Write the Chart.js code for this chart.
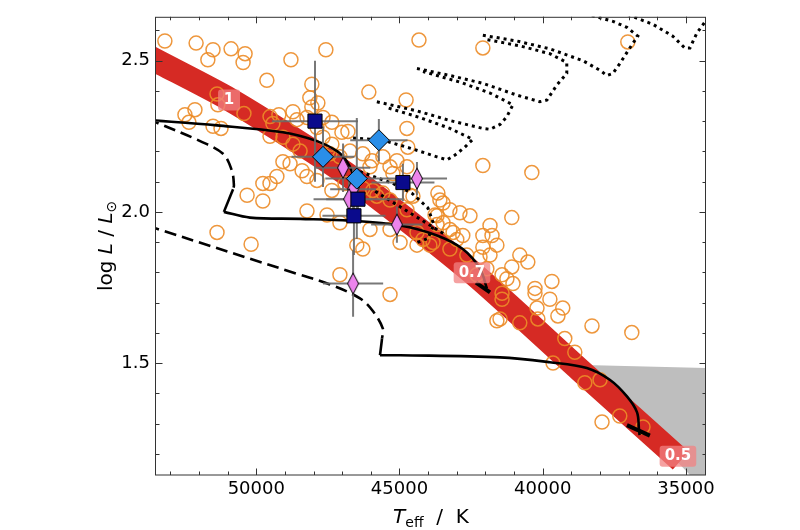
<!DOCTYPE html>
<html>
<head>
<meta charset="utf-8">
<title>HR diagram</title>
<script src="https://cdn.jsdelivr.net/npm/chart.js@4.4.0/dist/chart.umd.min.js"></script>
<style>
html,body{margin:0;padding:0;background:#ffffff;}
canvas{display:block;}
</style>
</head>
<body>
<canvas id="chart" width="800" height="530"></canvas>
<script>
// ---------------- axes ----------------
const xRange = [34300, 53500];
const yRange = [1.13, 2.645];
const xMajorTicks = [35000, 40000, 45000, 50000];
const yMajorTicks = [1.5, 2.0, 2.5];
const xMinorTicks = [35000, 36000, 37000, 38000, 39000, 40000, 41000, 42000, 43000, 44000,
                     45000, 46000, 47000, 48000, 49000, 50000, 51000, 52000, 53000];
const yMinorTicks = [1.2, 1.3, 1.4, 1.5, 1.6, 1.7, 1.8, 1.9, 2.0, 2.1, 2.2, 2.3, 2.4, 2.5, 2.6];
const xTitleRuns = [{t: 'T', italic: true}, {t: 'eff', sub: true}, {t: '  /  K'}];
const yTitleRuns = [{t: 'log '}, {t: 'L', italic: true}, {t: ' / '}, {t: 'L', italic: true}, {t: '\u2299', sub: true}];

// ---------------- observed stars (open circles) ----------------
const obsTeff = [53190, 52100, 51690, 51510, 50880, 50390, 50460, 49630, 48790, 47570,
  44320, 42090, 37030, 48060, 47850, 46070, 44770, 44740, 52490, 52140,
  52350, 51510, 51230, 51370, 51340, 50430, 49420, 49210, 48720, 48580,
  48230, 48060, 47670, 47360, 49520, 49070, 48720, 47670, 47360, 47010,
  46800, 47430, 46730, 46280, 45960, 45580, 45330, 47080, 48820, 48400,
  48230, 47880, 49280, 49520, 50320, 49770, 46900, 47360, 46280, 45790,
  45330, 44640, 51370, 50180, 44710, 42090, 40380, 43660, 43590, 47880,
  48470, 49070, 49770, 48230, 47530, 47080, 46030, 46490, 46280, 47080,
  45330, 45330, 44740, 44530, 45230, 45090, 44740, 46030, 45930, 45580,
  43480, 43690, 43240, 42890, 43480, 44390, 44180, 43940, 43240, 43000,
  42790, 42540, 43240, 42650, 42090, 41840, 41840, 41600, 41950, 42300,
  41600, 44980, 43760, 41080, 43690, 43130, 43830, 41770, 42090, 42190,
  40800, 40520, 41080, 41420, 41250, 41040, 41420, 41420, 40270, 40270,
  39750, 39680, 39300, 39470, 40200, 40170, 41490, 40800, 38280, 36890,
  39230, 38880, 39640, 38530, 38000, 37930, 37310, 36500, 48130, 49520, 44390];
const obsLogL = [2.565, 2.558, 2.503, 2.536, 2.539, 2.523, 2.494, 2.435, 2.503, 2.536,
  2.568, 2.542, 2.562, 2.422, 2.360, 2.396, 2.370, 2.276, 2.321, 2.338,
  2.296, 2.283, 2.276, 2.390, 2.354, 2.325, 2.292, 2.321, 2.331, 2.305,
  2.312, 2.347, 2.312, 2.296, 2.250, 2.247, 2.224, 2.247, 2.224, 2.263,
  2.266, 2.192, 2.201, 2.192, 2.169, 2.182, 2.149, 2.182, 2.159, 2.136,
  2.117, 2.104, 2.117, 2.094, 2.055, 2.036, 2.094, 2.071, 2.078, 2.052,
  2.039, 2.055, 1.932, 1.893, 2.214, 2.153, 2.130, 2.062, 2.039, 2.279,
  2.201, 2.166, 2.094, 2.003, 1.990, 1.964, 1.942, 1.890, 1.877, 1.792,
  1.727, 1.942, 2.007, 2.052, 2.127, 2.169, 2.149, 2.149, 2.071, 2.062,
  2.029, 1.987, 2.007, 1.997, 1.964, 1.932, 1.909, 1.890, 1.942, 1.909,
  1.922, 1.987, 1.877, 1.857, 1.922, 1.955, 1.857, 1.890, 1.812, 1.792,
  1.640, 1.899, 1.990, 1.981, 1.958, 1.932, 1.899, 1.922, 1.883, 1.851,
  1.857, 1.834, 1.818, 1.792, 1.779, 1.763, 1.731, 1.711, 1.747, 1.731,
  1.711, 1.770, 1.682, 1.656, 1.682, 1.646, 1.646, 1.633, 1.623, 1.601,
  1.581, 1.536, 1.500, 1.435, 1.445, 1.305, 1.325, 1.289, 2.377, 2.315, 1.890];

// ---------------- red band (He main sequence) ----------------
const bandTeff = [53800, 53500, 50950, 48020, 46485, 42470, 38700, 35180];
const bandLogL = [2.515, 2.500, 2.373, 2.200, 2.100, 1.800, 1.477, 1.178];
const bandLabelTeff = [50950, 42470, 35280];
const bandLabelLogL = [2.373, 1.802, 1.195];
const bandLabelText = ['1', '0.7', '0.5'];

// ---------------- grey region ----------------
const greyTeff = [38530, 34300, 34300, 34860, 38530];
const greyLogL = [1.494, 1.484, 1.130, 1.130, 1.494];

// ---------------- evolutionary tracks ----------------
const trackA_T = [53800, 51370, 49070, 47880, 47180, 46830, 46630, 46490, 46420];
const trackA_L = [2.304, 2.286, 2.263, 2.234, 2.201, 2.166, 2.127, 2.094, 2.075];

const trackBdash_T = [53800, 53500, 51960, 51160, 50850, 50780, 50810];
const trackBdash_L = [2.308, 2.296, 2.234, 2.192, 2.136, 2.088, 2.075];
const trackBkink_T = [50810, 51130];
const trackBkink_L = [2.075, 2.000];
const trackB_T = [51130, 50220, 48470, 46730, 44980, 43690, 42790, 42190, 41950];
const trackB_L = [2.000, 1.981, 1.977, 1.971, 1.955, 1.922, 1.877, 1.812, 1.747];
const hookB_T = [42330, 41840];
const hookB_L = [1.766, 1.734];

const trackCdash_T = [53800, 53500, 48470, 47430, 46380, 45930, 45580, 45610];
const trackCdash_L = [1.954, 1.945, 1.792, 1.760, 1.714, 1.672, 1.614, 1.581];
const trackCkink_T = [45610, 45680];
const trackCkink_L = [1.581, 1.526];
const trackC_T = [45680, 44980, 41490, 39750, 38460, 37660, 37060, 36710, 36640, 36620];
const trackC_L = [1.526, 1.526, 1.519, 1.503, 1.484, 1.445, 1.390, 1.338, 1.282, 1.262];
const hookC_T = [37060, 36260];
const hookC_L = [1.295, 1.260];

// dotted tracks
const dot1_T = [44390, 43240, 42090, 40900, 40100, 39850, 39510, 39160, 39160, 39750, 40800, 42020];
const dot1_L = [2.474, 2.451, 2.425, 2.386, 2.364, 2.370, 2.419, 2.458, 2.494, 2.523, 2.549, 2.571];
const dot2_T = [42090, 40900, 39750, 38600, 38000, 37760, 37550, 37310, 36960, 36680, 37060, 37550, 38320];
const dot2_L = [2.584, 2.565, 2.539, 2.500, 2.468, 2.451, 2.458, 2.490, 2.542, 2.581, 2.610, 2.630, 2.650];
const dot3_T = [37030, 36150, 35460, 35040, 34860, 34620, 34100];
const dot3_L = [2.652, 2.620, 2.581, 2.542, 2.542, 2.591, 2.659];
const dot4_T = [45790, 44390, 43240, 42090, 41840, 41490, 41250, 41040, 41840, 42890, 44180];
const dot4_L = [2.364, 2.334, 2.302, 2.276, 2.273, 2.289, 2.315, 2.354, 2.393, 2.429, 2.464];
const dot5_T = [46620, 45580, 44640, 43690, 43340, 43060, 42720, 42440, 43240, 44290, 45510];
const dot5_L = [2.244, 2.237, 2.211, 2.182, 2.172, 2.188, 2.214, 2.240, 2.276, 2.312, 2.347];
const dot6_T = [46380, 45230, 44570, 44010, 43800, 44010, 44460];
const dot6_L = [2.133, 2.094, 2.062, 2.013, 1.958, 1.912, 1.896];
const dot7_T = [45850, 44640, 43410];
const dot7_L = [2.068, 1.997, 1.925];

// ---------------- stars with error bars ----------------
const sqTeff = [47950, 44880, 46450, 46590];
const sqLogL = [2.300, 2.097, 2.042, 1.987];
const sqErrT = [1500, 1100, 1550, 1100];
const sqErrL = [0.20, 0.062, 0.08, 0.13];

const bdTeff = [47670, 46490, 45720];
const bdLogL = [2.182, 2.110, 2.237];
const bdErrT = [1100, 1100, 1000];
const bdErrL = [0.10, 0.20, 0.07];

const vdTeff = [46970, 46620, 46760, 44390, 45090, 46620];
const vdLogL = [2.146, 2.075, 2.042, 2.110, 1.958, 1.763];
const vdErrT = [950, 800, 800, 1050, 900, 1050];
const vdErrL = [0.08, 0.07, 0.07, 0.055, 0.06, 0.11];

// ---------------- helpers ----------------
const FONT = 'DejaVu Sans';
function pts(xs, ys) { return xs.map((x, i) => ({x: x, y: ys[i]})); }
function errPts(T, L, eT, eL) {
  const out = [];
  T.forEach((t, i) => {
    out.push({x: t - eT[i], y: L[i]}, {x: t + eT[i], y: L[i]}, {x: null, y: null});
    out.push({x: t, y: L[i] - eL[i]}, {x: t, y: L[i] + eL[i]}, {x: null, y: null});
  });
  return out;
}
function lineDS(label, data, opts) {
  return Object.assign({
    type: 'scatter', label: label, data: data, showLine: true, pointRadius: 0,
    pointHoverRadius: 0, borderColor: '#000000', backgroundColor: '#000000',
    borderWidth: 2.6, fill: false, tension: 0, spanGaps: false
  }, opts || {});
}
function thinDiamond(fill) {
  const c = document.createElement('canvas');
  c.width = 14; c.height = 24;
  const g = c.getContext('2d');
  g.beginPath();
  g.moveTo(7, 1.5); g.lineTo(12.5, 12); g.lineTo(7, 22.5); g.lineTo(1.5, 12); g.closePath();
  g.fillStyle = fill; g.fill();
  g.lineWidth = 1; g.strokeStyle = '#000'; g.stroke();
  return c;
}
function runFont(r, size) {
  const s = r.sub ? size * 0.7 : size;
  return (r.italic ? 'italic ' : '') + s + 'px "' + FONT + '"';
}
function drawRich(ctx, runs, size, cx, baseline) {
  let total = 0;
  const widths = runs.map(r => { ctx.font = runFont(r, size); const w = ctx.measureText(r.t).width; total += w; return w; });
  let x = cx - total / 2;
  ctx.textAlign = 'left';
  ctx.textBaseline = 'alphabetic';
  runs.forEach((r, i) => {
    ctx.font = runFont(r, size);
    ctx.fillText(r.t, x, baseline + (r.sub ? size * 0.22 : 0));
    x += widths[i];
  });
}

// ---------------- plugins ----------------
const bandLabelPlugin = {
  id: 'bandLabels',
  afterDatasetsDraw(chart) {
    const {ctx, scales: {x, y}} = chart;
    ctx.save();
    ctx.font = 'bold 15px "' + FONT + '"';
    ctx.textAlign = 'center';
    ctx.textBaseline = 'middle';
    bandLabelText.forEach((t, i) => {
      const px = x.getPixelForValue(bandLabelTeff[i]);
      const py = y.getPixelForValue(bandLabelLogL[i]);
      const w = Math.max(22, ctx.measureText(t).width + 10);
      const h = 21;
      ctx.fillStyle = 'rgba(242,130,130,0.75)';
      ctx.beginPath();
      ctx.roundRect(px - w / 2, py - h / 2 + 1, w, h, 3);
      ctx.fill();
      ctx.fillStyle = '#ffffff';
      ctx.fillText(t, px, py + 1);
    });
    ctx.restore();
  }
};

const framePlugin = {
  id: 'frame',
  afterDatasetsDraw(chart) {
    const {ctx, chartArea: a, scales: {x, y}} = chart;
    ctx.save();
    ctx.strokeStyle = '#333333';
    ctx.lineWidth = 1;
    ctx.strokeRect(a.left - 0.5, a.top + 0.5, a.right - a.left, a.bottom - a.top - 0.5);
    ctx.beginPath();
    const tick = (vals, len, horiz) => {
      vals.forEach(v => {
        if (horiz) {
          const p = Math.round(x.getPixelForValue(v)) + 0.5;
          ctx.moveTo(p, a.bottom); ctx.lineTo(p, a.bottom - len);
          ctx.moveTo(p, a.top); ctx.lineTo(p, a.top + len);
        } else {
          const p = Math.round(y.getPixelForValue(v)) + 0.5;
          ctx.moveTo(a.left, p); ctx.lineTo(a.left + len, p);
          ctx.moveTo(a.right, p); ctx.lineTo(a.right - len, p);
        }
      });
    };
    tick(xMinorTicks, 3.5, true);
    tick(yMinorTicks, 3.5, false);
    tick(xMajorTicks, 6.5, true);
    tick(yMajorTicks, 6.5, false);
    ctx.stroke();
    // axis titles
    ctx.fillStyle = '#000000';
    drawRich(ctx, xTitleRuns, 20, (a.left + a.right) / 2, 523);
    ctx.translate(98, (a.top + a.bottom) / 2);
    ctx.rotate(-Math.PI / 2);
    drawRich(ctx, yTitleRuns, 20, 0, 14);
    ctx.restore();
  }
};

// ---------------- chart ----------------
Chart.defaults.font.family = FONT;
const ORANGE = 'rgba(236,140,40,0.9)';
const ERR = 'rgba(105,105,105,0.9)';

const datasets = [
  lineDS('grey region', pts(greyTeff, greyLogL), {borderWidth: 0, backgroundColor: '#bebebe', fill: 'shape', order: 20}),
  lineDS('He-ZAMS band', pts(bandTeff, bandLogL), {borderColor: '#d62a24', borderWidth: 24, tension: 0.25, borderCapStyle: 'butt', borderJoinStyle: 'round', order: 19}),
  {type: 'scatter', label: 'observed', data: pts(obsTeff, obsLogL), pointRadius: 7, pointHoverRadius: 7,
   pointBorderWidth: 1.5, borderColor: ORANGE, pointBorderColor: ORANGE, backgroundColor: 'rgba(0,0,0,0)',
   pointBackgroundColor: 'rgba(0,0,0,0)', order: 18},
  lineDS('dot1', pts(dot1_T, dot1_L), {borderDash: [3, 4], borderWidth: 3, order: 12}),
  lineDS('dot2', pts(dot2_T, dot2_L), {borderDash: [3, 4], borderWidth: 3, order: 12}),
  lineDS('dot3', pts(dot3_T, dot3_L), {borderDash: [3, 4], borderWidth: 3, order: 12}),
  lineDS('dot4', pts(dot4_T, dot4_L), {borderDash: [3, 4], borderWidth: 3, order: 12}),
  lineDS('dot5', pts(dot5_T, dot5_L), {borderDash: [3, 4], borderWidth: 3, order: 12}),
  lineDS('dot6', pts(dot6_T, dot6_L), {borderDash: [3, 4], borderWidth: 3, order: 12}),
  lineDS('dot7', pts(dot7_T, dot7_L), {borderDash: [3, 4], borderWidth: 3, order: 12}),
  lineDS('track A', pts(trackA_T, trackA_L), {tension: 0.35, order: 11}),
  lineDS('track B dashed', pts(trackBdash_T, trackBdash_L), {tension: 0.35, borderDash: [12, 6], order: 11}),
  lineDS('track B kink', pts(trackBkink_T, trackBkink_L), {order: 11}),
  lineDS('track B', pts(trackB_T, trackB_L), {tension: 0.35, order: 11}),
  lineDS('track B end', pts(hookB_T, hookB_L), {borderWidth: 4, order: 11}),
  lineDS('track C dashed', pts(trackCdash_T, trackCdash_L), {tension: 0.35, borderDash: [12, 6], order: 11}),
  lineDS('track C kink', pts(trackCkink_T, trackCkink_L), {order: 11}),
  lineDS('track C', pts(trackC_T, trackC_L), {tension: 0.35, order: 11}),
  lineDS('track C end', pts(hookC_T, hookC_L), {borderWidth: 4, order: 11}),
  lineDS('errors violet', errPts(vdTeff, vdLogL, vdErrT, vdErrL), {borderColor: ERR, borderWidth: 2, order: 6}),
  lineDS('errors blue', errPts(bdTeff, bdLogL, bdErrT, bdErrL), {borderColor: ERR, borderWidth: 2, order: 5}),
  lineDS('errors squares', errPts(sqTeff, sqLogL, sqErrT, sqErrL), {borderColor: ERR, borderWidth: 2, order: 5}),
  {type: 'scatter', label: 'violet', data: pts(vdTeff, vdLogL), pointStyle: thinDiamond('#ec84ec'),
   pointRadius: 10, order: 3},
  {type: 'scatter', label: 'blue diamonds', data: pts(bdTeff, bdLogL), pointStyle: 'rectRot', pointRadius: 10.5,
   pointBackgroundColor: '#2a8ee8', pointBorderColor: '#000', pointBorderWidth: 1, order: 2},
  {type: 'scatter', label: 'squares', data: pts(sqTeff, sqLogL), pointStyle: 'rect', pointRadius: 10,
   pointBackgroundColor: '#0a0a8c', pointBorderColor: '#000', pointBorderWidth: 1, order: 1}
];

new Chart(document.getElementById('chart').getContext('2d'), {
  type: 'scatter',
  data: {datasets: datasets},
  options: {
    responsive: false,
    animation: false,
    devicePixelRatio: 1,
    events: [],
    layout: {padding: {left: 0, top: 11, right: 94, bottom: 0}},
    plugins: {legend: {display: false}, tooltip: {enabled: false}},
    scales: {
      x: {
        type: 'linear', reverse: true, min: xRange[0], max: xRange[1],
        grid: {display: false, drawTicks: false},
        border: {display: false},
        ticks: {color: '#000', font: {size: 18, family: FONT}, padding: 4, maxRotation: 0, autoSkip: false,
                callback: v => String(v)},
        afterBuildTicks: s => { s.ticks = xMajorTicks.map(v => ({value: v})); },
        afterFit: s => { s.height = 55; }
      },
      y: {
        type: 'linear', min: yRange[0], max: yRange[1],
        grid: {display: false, drawTicks: false},
        border: {display: false},
        ticks: {color: '#000', font: {size: 18, family: FONT}, padding: 6, autoSkip: false,
                callback: v => Number(v).toFixed(1)},
        afterBuildTicks: s => { s.ticks = yMajorTicks.map(v => ({value: v})); },
        afterFit: s => { s.width = 156; }
      }
    }
  },
  plugins: [bandLabelPlugin, framePlugin]
});
</script>
</body>
</html>
